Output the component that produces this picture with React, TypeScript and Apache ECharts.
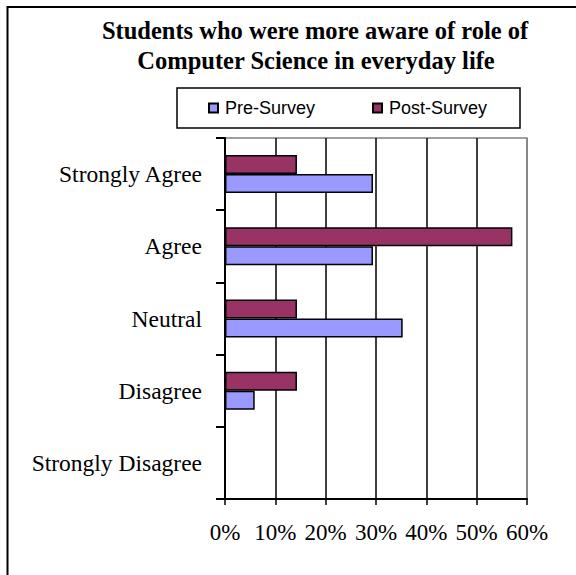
import React, { useEffect, useRef } from "react";
import * as echarts from "echarts";

const titleLines = [
  "Students who were more aware of role of",
  "Computer Science in everyday life",
];
const categories = ["Strongly Disagree", "Disagree", "Neutral", "Agree", "Strongly Agree"];
const seriesNames = ["Pre-Survey", "Post-Survey"];
const preSurvey = [0, 5.9, 35.3, 29.4, 29.4];
const postSurvey = [0, 14.3, 14.3, 57.1, 14.3];
const axisMin = 0;
const axisMax = 60;
const axisStep = 10;

const serif = "'Liberation Serif', 'Times New Roman', Times, serif";
const sans = "'Liberation Sans', Arial, Helvetica, sans-serif";

export default function App() {
  const ref = useRef<HTMLDivElement>(null);

  useEffect(() => {
    if (!ref.current) return;
    const chart = echarts.init(ref.current, undefined, { renderer: "svg" });
    const splitColors = [] as string[];
    for (let v = axisMin; v <= axisMax; v += axisStep) {
      splitColors.push(v === axisMax ? "#808080" : "#000000");
    }
    chart.setOption({
      animation: false,
      backgroundColor: "#ffffff",
      graphic: [
        {
          type: "rect",
          silent: true,
          shape: { x: 7.5, y: 7, width: 700, height: 700 },
          style: { fill: "none", stroke: "#000", lineWidth: 2 },
        },
        {
          type: "text",
          x: 315,
          y: 30,
          style: {
            text: titleLines[0],
            fontFamily: serif,
            fontSize: 24.5,
            fontWeight: "bold",
            fill: "#000",
            align: "center",
            verticalAlign: "middle",
          },
        },
        {
          type: "text",
          x: 316,
          y: 60,
          style: {
            text: titleLines[1],
            fontFamily: serif,
            fontSize: 24.5,
            fontWeight: "bold",
            fill: "#000",
            align: "center",
            verticalAlign: "middle",
          },
        },
        {
          type: "rect",
          silent: true,
          shape: { x: 177, y: 88, width: 343, height: 40 },
          style: { fill: "#fff", stroke: "#000", lineWidth: 1.5 },
        },
      ],
      legend: {
        data: seriesNames,
        left: 208,
        top: 99,
        padding: 0,
        itemWidth: 9,
        itemHeight: 9,
        itemGap: 57,
        icon: "rect",
        textStyle: {
          fontFamily: sans,
          fontSize: 18,
          color: "#000",
          padding: [0, 0, 0, 2],
        },
      },
      grid: {
        left: 225,
        right: 49,
        top: 138,
        bottom: 76,
        show: true,
        borderColor: "#808080",
        borderWidth: 1.5,
        backgroundColor: "transparent",
      },
      xAxis: {
        type: "value",
        min: axisMin,
        max: axisMax,
        interval: axisStep,
        axisLabel: {
          formatter: "{value}%",
          fontFamily: serif,
          fontSize: 23,
          color: "#000",
          margin: 22,
        },
        axisLine: { show: true, lineStyle: { color: "#000", width: 2 } },
        axisTick: { show: true, length: 6, lineStyle: { color: "#000", width: 1.5 } },
        splitLine: { show: true, lineStyle: { color: splitColors, width: 1.5 } },
      },
      yAxis: {
        type: "category",
        data: categories,
        axisLine: { show: true, lineStyle: { color: "#000", width: 2 } },
        axisTick: { show: true, length: 9, lineStyle: { color: "#000", width: 2 } },
        axisLabel: {
          fontFamily: serif,
          fontSize: 23.5,
          color: "#000",
          margin: 23,
        },
      },
      series: [
        {
          name: seriesNames[1],
          type: "bar",
          data: postSurvey,
          barWidth: 19,
          barGap: "0%",
          itemStyle: { color: "#993366", borderColor: "#000", borderWidth: 1.5 },
        },
        {
          name: seriesNames[0],
          type: "bar",
          data: preSurvey,
          barWidth: 19,
          barGap: "0%",
          itemStyle: { color: "#9999FF", borderColor: "#000", borderWidth: 1.5 },
        },
      ],
    });
    return () => chart.dispose();
  }, []);

  return (
    <div
      ref={ref}
      style={{ position: "fixed", left: 0, top: 0, width: 576, height: 575, background: "#fff" }}
    />
  );
}
